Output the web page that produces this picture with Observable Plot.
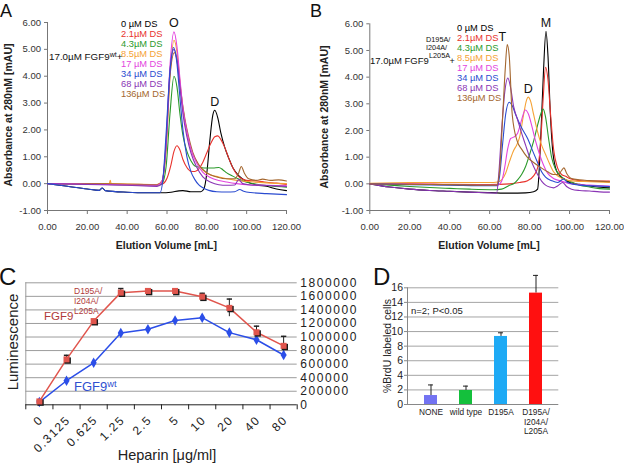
<!DOCTYPE html>
<html><head><meta charset="utf-8">
<script src="https://cdn.jsdelivr.net/npm/d3@7"></script>
<script src="https://cdn.jsdelivr.net/npm/@observablehq/plot@0.6"></script>
<style>
html,body{margin:0;padding:0;background:#fff;}
#fig{position:relative;width:624px;height:463px;overflow:hidden;font-family:"Liberation Sans",Arial,Helvetica,sans-serif;color:#111;}
.panel{position:absolute;}
.panel svg{display:block;overflow:visible;}
.t{position:absolute;white-space:nowrap;line-height:1;}
.sup{position:relative;top:-0.45em;font-size:72%;}
</style></head><body><div id="fig"></div>
<script>
// ---------- shared labels ----------
const volTicks = [0, 20, 40, 60, 80, 100, 120];
const absTicks = [-1, 0, 1, 2, 3, 4, 5, 6];
const dsLabels = ["0 µM DS", "2.1µM DS", "4.3µM DS", "8.5µM DS", "17 µM DS", "34 µM DS", "68 µM DS", "136µM DS"];
const dsColors = ["#000000", "#e8322c", "#2b9a2b", "#f5a235", "#e344de", "#2a4bd0", "#8a35b5", "#a4672f"];

// ---------- panel A : FGF9 wt, [elution mL, absorbance] ----------
const aDS0 = [[0,0],[10,-0.1],[20,-0.2],[26,-0.25],[27.5,-0.16],[29,-0.26],[40,-0.32],[50,-0.34],[57,-0.34],[62,-0.32],[66,-0.27],[68,-0.26],[72,-0.3],[77,-0.3],[78.5,-0.2],[80,0.4],[81.5,1.6],[83,2.55],[84,2.73],[85.5,2.45],[87,1.9],[89,1.35],[91,0.95],[93,0.6],[96,0.3],[100,0.08],[105,-0.05],[110,-0.1],[115,-0.2],[120,-0.26]];
const aDS2 = [[0,0],[20,0],[40,-0.03],[55,-0.05],[58,0],[60,0.2],[62,0.7],[63.5,1.2],[65,1.41],[66.5,1.25],[68,0.9],[70,0.6],[72,0.46],[74,0.45],[76,0.55],[78,0.8],[80,1.15],[82,1.5],[84,1.75],[85.5,1.78],[87,1.65],[89,1.35],[91,0.95],[93,0.6],[95,0.35],[97,0.2],[100,0.12],[105,0.1],[110,0.05],[115,0.02],[120,-0.03]];
const aDS4 = [[0,0],[30,-0.03],[55,-0.07],[57.5,0],[59.5,0.6],[61.5,2.6],[63.5,4.0],[65,3.6],[66.5,2.6],[68,1.8],[70,1.2],[72,0.85],[74,0.66],[77,0.6],[80,0.58],[83,0.58],[86,0.6],[88,0.52],[90,0.4],[93,0.28],[96,0.17],[100,0.05],[105,-0.02],[110,-0.07],[115,-0.1],[120,-0.13]];
const aDS8 = [[0,0],[20,0],[31,0],[31.5,0.12],[32,0],[45,-0.02],[55,-0.03],[57.5,0.1],[59.5,1.2],[61.5,4.0],[63.5,5.34],[65,4.9],[66.5,3.8],[68,2.8],[70,1.9],[72,1.3],[75,0.8],[78,0.5],[82,0.32],[86,0.25],[90,0.18],[95,0.12],[100,0.08],[110,0.03],[120,0]];
const aDS17 = [[0,0],[20,-0.02],[40,-0.05],[55,-0.06],[57.5,0.1],[59.5,1.4],[61.5,4.4],[63.5,5.65],[65,5.1],[66.5,3.9],[68,2.8],[70,1.95],[72,1.3],[75,0.75],[78,0.42],[82,0.22],[86,0.12],[90,0.06],[95,0],[100,-0.04],[110,-0.06],[120,-0.08]];
const aDS34 = [[0,0],[10,-0.1],[20,-0.2],[26,-0.25],[27.5,-0.16],[29,-0.26],[40,-0.32],[50,-0.34],[56.5,-0.34],[58,0.2],[59.5,1.8],[61.5,4.2],[63.3,5.07],[64.8,4.6],[66.5,3.2],[68,2.0],[70,1.0],[72,0.45],[74,0.15],[76,-0.05],[78,-0.15],[81,-0.25],[85,-0.3],[90,-0.31],[94,-0.3],[96.5,-0.22],[98.5,-0.28],[102,-0.33],[110,-0.37],[120,-0.41]];
const aDS68 = [[0,0],[20,-0.03],[40,-0.06],[55,-0.1],[57.5,0],[59.5,1.5],[61.5,4.2],[63.5,5.0],[65,4.6],[66.5,3.6],[68,2.6],[70,1.75],[72,1.15],[75,0.6],[78,0.25],[82,0.05],[86,-0.04],[90,-0.06],[94,-0.05],[96,0.15],[98,0],[102,-0.05],[110,-0.07],[120,-0.1]];
const aDS136 = [[0,0],[20,0],[40,-0.02],[55,-0.04],[57.5,0.1],[59.5,1.3],[61.5,4.0],[63.7,4.88],[65.3,4.5],[67,3.4],[69,2.4],[71,1.7],[73,1.15],[76,0.7],[80,0.4],[85,0.25],[90,0.18],[94,0.18],[96,0.4],[97.3,0.64],[98.8,0.4],[101,0.18],[105,0.12],[108,0.17],[112,0.12],[116,0.14],[120,0.1]];

// ---------- panel B : FGF9 D195A/I204A/L205A ----------
const bDS0 = [[0,0],[10,-0.12],[20,-0.2],[30,-0.25],[40,-0.28],[50,-0.31],[60,-0.33],[70,-0.35],[78,-0.34],[82,-0.3],[84,-0.2],[85,0.8],[86,2.5],[87,4.3],[88.2,5.72],[89.2,4.8],[90.4,2.6],[91.5,1.3],[93,0.6],[95,0.3],[98,0.15],[100,0.05],[105,-0.02],[110,-0.08],[120,-0.15]];
const bDS2 = [[0,0],[20,0],[40,-0.02],[60,-0.03],[70,0],[75,0.05],[79,0.12],[82,0.3],[84,0.6],[85.5,1.5],[86.8,3.2],[88,4.37],[89.2,3.9],[90.5,2.6],[92,1.3],[94,0.6],[96,0.35],[98,0.28],[100,0.2],[105,0.12],[110,0.1],[120,0.1]];
const bDS4 = [[0,0],[10,-0.05],[20,-0.1],[30,-0.14],[40,-0.17],[50,-0.2],[62,-0.22],[66,-0.2],[70,-0.05],[72,0],[74,0.15],[76,0.35],[78,0.65],[80,1.1],[82,1.6],[84,2.2],[85.5,2.6],[86.8,2.8],[88,2.5],[89.5,1.7],[91,1.0],[93,0.55],[95,0.35],[97,0.2],[100,0.1],[105,-0.05],[110,-0.12],[115,-0.18],[120,-0.2]];
const bDS8 = [[0,0.02],[20,0.05],[40,0.05],[60,0.05],[64,0.07],[66,0.15],[68,0.4],[70,0.85],[72,1.25],[73.5,1.45],[75,1.75],[77,2.6],[78.5,3.15],[79.3,3.25],[80.5,3.1],[82,2.6],[84,1.95],[86,1.45],[88,1.1],[90,0.75],[92,0.45],[95,0.25],[98,0.15],[100,0.12],[110,0.08],[120,0.05]];
const bDS17 = [[0,0],[30,-0.02],[60,-0.05],[64,-0.04],[66,0.1],[67.5,0.6],[69,1.3],[70.5,1.7],[72,1.75],[74,1.9],[76,2.4],[77.8,2.77],[79.5,2.6],[81,2.2],[83,1.6],[85,1.1],[87,0.7],[89,0.4],[92,0.2],[95,0.12],[98,0.05],[100,0],[110,-0.05],[120,-0.08]];
const bDS34 = [[0,0],[20,-0.03],[40,-0.05],[60,-0.07],[64,-0.07],[65,0.3],[66.5,1.5],[68,2.6],[69.8,3.06],[71.5,2.9],[73,2.6],[76,2.1],[79,1.7],[82,1.15],[84,0.8],[86,0.45],[88,0.25],[91,0.12],[94,0.05],[97,0.18],[99,0.05],[105,-0.05],[120,-0.1]];
const bDS68 = [[0,0],[10,-0.12],[20,-0.2],[30,-0.25],[40,-0.28],[50,-0.31],[60,-0.34],[63.5,-0.35],[64.5,0.3],[66,2.0],[67.5,3.4],[69.1,3.97],[70.5,3.6],[72,2.9],[74,2.4],[76,1.9],[78,1.45],[80,1.0],[82,0.65],[84,0.35],[86,0.1],[88,-0.05],[90,-0.12],[92,-0.15],[94,-0.08],[96.5,0.05],[98.5,-0.1],[101,-0.2],[105,-0.25],[110,-0.27],[115,-0.3],[120,-0.31]];
const bDS136 = [[0,0],[20,-0.02],[40,-0.03],[60,-0.05],[63.5,-0.05],[65,0.5],[66.5,2.5],[67.8,4.3],[68.8,5.22],[69.8,4.8],[71.3,2.6],[73.8,1.6],[76,1.3],[78.8,1.0],[82,0.8],[85.4,0.62],[89,0.45],[92,0.35],[94.5,0.35],[96,0.5],[97.2,0.6],[98.5,0.4],[101,0.2],[105,0.15],[110,0.12],[120,0.08]];

// ---------- panel C : luminescence vs heparin ----------
const heparin = ["0", "0.3125", "0.625", "1.25", "2.5", "5", "10", "20", "40", "80"];
const lumWt = [40000, 355000, 620000, 1060000, 1115000, 1245000, 1285000, 1065000, 960000, 735000];
const lumWtErr = [10000, 20000, 40000, 20000, 20000, 40000, 30000, 20000, 30000, 20000];
const lumMut = [50000, 670000, 1235000, 1655000, 1680000, 1680000, 1595000, 1430000, 1070000, 870000];
const lumMutErr = [10000, 60000, 20000, 60000, 20000, 20000, 50000, 130000, 90000, 140000];
const lumTicks = [0, 200000, 400000, 600000, 800000, 1000000, 1200000, 1400000, 1600000, 1800000];

// ---------- panel D : BrdU ----------
const conditions = ["NONE", "wild type", "D195A", "D195A/\nI204A/\nL205A"];
const brdu = [1.23, 1.92, 9.33, 15.27];
const brduErr = [1.45, 0.6, 0.5, 2.43];
const barColors = ["#7373f2", "#14c03c", "#1eaaf5", "#ff1010"];
const brduTicks = [0, 2, 4, 6, 8, 10, 12, 14, 16];

const FONT = '"Liberation Sans", Arial, Helvetica, sans-serif';
const fig = document.getElementById("fig");

function put(html, x, y, css = {}, anchor = "start", rot = 0) {
  const d = document.createElement("div");
  d.className = "t"; d.innerHTML = html;
  d.style.left = x + "px"; d.style.top = y + "px";
  const tx = anchor === "middle" ? "-50%" : anchor === "end" ? "-100%" : "0";
  d.style.transform = `translate(${tx},-50%)` + (rot ? ` rotate(${rot}deg)` : "");
  Object.assign(d.style, css);
  fig.appendChild(d);
  return d;
}
function panel(svg, x, y, w, h) {
  const d = document.createElement("div");
  d.className = "panel";
  Object.assign(d.style, {left: x + "px", top: y + "px", width: w + "px", height: h + "px"});
  d.appendChild(svg);
  fig.appendChild(d);
}

function chrom(series, order, peaks, m) {
  return Plot.plot({
    width: m.w, height: 255,
    marginLeft: m.l, marginRight: m.r, marginTop: m.t, marginBottom: 45,
    style: {fontFamily: FONT, fontSize: "9.5px", background: "transparent", color: "#333"},
    x: {domain: [0, 120]},
    y: {domain: [-1, 6]},
    marks: [
      Plot.ruleY([-1], {stroke: "#777"}),
      Plot.ruleX([0], {stroke: "#777"}),
      Plot.axisX({ticks: volTicks, tickFormat: d => d.toFixed(2), tickSize: 4, tickPadding: 9, label: null, stroke: "#777"}),
      Plot.axisY({ticks: absTicks, tickFormat: d => d.toFixed(2), tickSize: 3, tickPadding: 3.5, label: null, stroke: "#777"}),
      ...order.map(i => Plot.line(series[i], {x: d => d[0], y: d => d[1], stroke: dsColors[i], strokeWidth: 1.1, curve: "monotone-x"})),
      ...peaks.map(p => Plot.text([d3.greatest(p.s, d => d[1])], {x: d => d[0], y: d => d[1], text: () => p.label, dx: p.dx, dy: p.dy, fontSize: 12.5, fill: "#111"}))
    ]
  });
}

// Panel A
panel(chrom([aDS0, aDS2, aDS4, aDS8, aDS17, aDS34, aDS68, aDS136], [0, 1, 2, 3, 7, 4, 6, 5],
  [{s: aDS17, label: "O", dx: 0, dy: -9}, {s: aDS0, label: "D", dx: 0, dy: -8}],
  {w: 310, l: 47, r: 24, t: 22}), 0, 0, 310, 255);
// Panel B
panel(chrom([bDS0, bDS2, bDS4, bDS8, bDS17, bDS34, bDS68, bDS136], [0, 1, 2, 3, 4, 5, 6, 7],
  [{s: bDS136, label: "T", dx: -5, dy: -8}, {s: bDS8, label: "D", dx: 0, dy: -8}, {s: bDS0, label: "M", dx: 0, dy: -8}],
  {w: 314, l: 59.3, r: 15, t: 23.3}), 310, 0, 314, 255);

// Panel C
const idx = d3.range(heparin.length);
const plotC = Plot.plot({
  width: 400, height: 198,
  marginLeft: 25.3, marginRight: 103.3, marginTop: 17.3, marginBottom: 58.7,
  style: {fontFamily: FONT, fontSize: "12px", background: "transparent", color: "#222"},
  x: {domain: [-0.5, heparin.length - 0.5]},
  y: {domain: [0, 1800000]},
  marks: [
    Plot.gridY(lumTicks.slice(1), {stroke: "#9c9c9c", strokeOpacity: 1}),
    Plot.ruleX([-0.5], {stroke: "#9c9c9c"}),
    Plot.ruleY([0], {stroke: "#222"}),
    Plot.axisX({ticks: d3.range(-0.5, heparin.length, 1), tickSize: 5, tickFormat: () => "", label: null}),
    Plot.axisX({ticks: idx, tickSize: 0, tickPadding: 13, tickRotate: -45, tickFormat: i => heparin[i], label: null, fontSize: 12, dx: 2}),
    Plot.axisY({anchor: "right", ticks: lumTicks, tickSize: 0, tickPadding: 3, tickFormat: d => String(d), label: null, fontSize: 12}),
    Plot.ruleX(idx, {x: i => i, y1: i => lumWt[i] - lumWtErr[i], y2: i => lumWt[i] + lumWtErr[i], stroke: "#2b4ee8"}),
    Plot.ruleX(idx, {x: i => i, y1: i => lumMut[i] - lumMutErr[i], y2: i => lumMut[i] + lumMutErr[i], stroke: "#222"}),
    Plot.dot(idx, {x: i => i, y: i => lumMut[i] + lumMutErr[i], symbol: {draw(c, s) { const w = Math.sqrt(s) / 2; c.moveTo(-w, 0); c.lineTo(w, 0); }}, r: 3, stroke: "#222", fill: "none"}),
    Plot.line(idx, {x: i => i, y: i => lumWt[i], stroke: "#2b4ee8", strokeWidth: 1.5}),
    Plot.line(idx, {x: i => i, y: i => lumMut[i], stroke: "#e0554d", strokeWidth: 1.5}),
    Plot.dot(idx, {x: i => i, y: i => lumWt[i], symbol: "diamond", r: 3.2, fill: "#2b4ee8"}),
    Plot.dot(idx, {x: i => i, y: i => lumMut[i], symbol: "square", r: 3.6, fill: "#1a1a1a", dx: 1.2, dy: 1.2}),
    Plot.dot(idx, {x: i => i, y: i => lumMut[i], symbol: "square", r: 3.4, fill: "#e0554d"})
  ]
});
plotC.querySelectorAll('g[aria-label="y-axis tick label"] text, g[aria-label="x-axis tick label"] text').forEach(t => t.style.letterSpacing = "1.6px");
panel(plotC, 0, 265, 400, 198);

// Panel D
const bi = d3.range(conditions.length);
const plotD = Plot.plot({
  width: 190, height: 198,
  marginLeft: 27, marginRight: 11.7, marginTop: 22.3, marginBottom: 59,
  style: {fontFamily: FONT, fontSize: "10px", background: "transparent", color: "#222"},
  x: {domain: conditions, paddingInner: 0.63, paddingOuter: 0.44},
  y: {domain: [0, 16]},
  marks: [
    Plot.gridY(brduTicks.slice(1), {stroke: "#a4a4a4", strokeOpacity: 1}),
    Plot.frame({anchor: "left", stroke: "#888"}),
    Plot.ruleY([0], {stroke: "#888"}),
    Plot.axisY({ticks: brduTicks, tickSize: 3, tickPadding: 1.5, label: null, fontSize: 10.5, stroke: "#888"}),
    Plot.axisX({tickSize: 0, tickPadding: 3, label: null, fontSize: 8.3, lineHeight: 1.2}),
    Plot.ruleX(bi, {x: i => conditions[i], y1: i => brdu[i], y2: i => brdu[i] + brduErr[i], stroke: "#222"}),
    Plot.tickY(bi, {x: i => conditions[i], y: i => brdu[i] + brduErr[i], stroke: "#222", insetLeft: 4, insetRight: 4}),
    ...bi.map(i => Plot.barY([i], {x: j => conditions[j], y: j => brdu[j], fill: barColors[i]}))
  ]
});
panel(plotD, 380, 265, 190, 198);

// ---------- text annotations ----------
const letter = {fontSize: "18px", color: "#111"};
put("A", 0, 10.5, letter);
put("B", 310, 10.5, letter);
put("C", -1, 276.5, {fontSize: "24px"});
put("D", 373, 276.5, {fontSize: "24px"});

const axisTitle = {fontSize: "10.5px", fontWeight: "bold", color: "#222"};
put("Elution Volume [mL]", 166.4, 245, axisTitle, "middle");
put("Elution Volume [mL]", 489, 245, axisTitle, "middle");
put("Absorbance at 280nM [mAU]", 7.5, 115, axisTitle, "middle", -90);
put("Absorbance at 280nM [mAU]", 324, 117, axisTitle, "middle", -90);

const legCss = i => ({fontSize: "9.3px", color: dsColors[i]});
dsLabels.forEach((s, i) => put(s, 121, 24.7 + 10.05 * i, legCss(i)));
dsLabels.forEach((s, i) => put(s, 457, 28.7 + 10.05 * i, legCss(i)));

put('17.0µM FGF9<span class="sup">wt</span>+', 49, 57, {fontSize: "9.8px", color: "#111"});
put("17.0µM FGF9", 370, 61, {fontSize: "9.5px", color: "#111"});
put("D195A/", 426, 39.5, {fontSize: "7.3px", color: "#111"});
put("I204A/", 426, 47.5, {fontSize: "7.3px", color: "#111"});
put("L205A", 429, 56, {fontSize: "7.3px", color: "#111"});
put("+", 449.5, 61, {fontSize: "9px", color: "#111"});

put("Luminescence", 12, 342, {fontSize: "15px", color: "#222"}, "middle", -90);
put("Heparin [μg/ml]", 167, 455, {fontSize: "14.5px", color: "#222"}, "middle");
put("D195A/", 74, 291, {fontSize: "8.5px", color: "#b03a3a"});
put("I204A/", 74, 301, {fontSize: "8.5px", color: "#b03a3a"});
put("L205A", 74, 311, {fontSize: "8.5px", color: "#b03a3a"});
put("FGF9", 44, 317, {fontSize: "11.5px", color: "#b03a3a"});
put('FGF9<span class="sup">wt</span>', 74, 387, {fontSize: "13px", color: "#3050d0"});

put("%BrdU labeled cells", 387, 345.5, {fontSize: "10.5px", color: "#222"}, "middle", -90);
put("n=2; P&lt;0.05", 411, 311, {fontSize: "9.5px", color: "#222"});
</script></body></html>
